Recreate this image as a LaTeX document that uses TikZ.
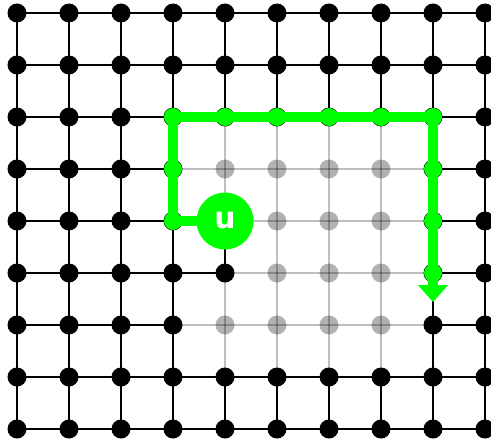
\documentclass[tikz,border=0pt]{standalone}
\usepackage{fontspec}
\setsansfont{DejaVu Sans}
\usepackage{tikz}
\usetikzlibrary{calc,arrows.meta}
\definecolor{routegreen}{RGB}{0,255,0}

% перевірка: чи вершина (#1,#2) сіра
\newcommand{\ingray}[2]{%
  \pgfmathtruncatemacro\gtest{(#1>3)*(#1<8)*(#2>2)*(#2<7)*(1-(#1==4)*(#2>3)*(#2<6))}}

\begin{document}
\begin{tikzpicture}[x=1.04cm,y=-1.04cm,
    edge/.style={draw=black,line width=1.5pt},
    gedge/.style={draw=black,opacity=0.25,line width=1.5pt},
    vtx/.style={circle,fill=black,inner sep=0pt,minimum size=0.38cm},
    gvtx/.style={circle,fill=black,opacity=0.3,inner sep=0pt,minimum size=0.38cm},
    route/.style={draw=routegreen,line width=5.4pt},
    rvtx/.style={circle,fill=routegreen,inner sep=0pt,minimum size=0.36cm},
    unode/.style={circle,fill=routegreen,inner sep=0pt,minimum size=1.14cm,
        text=white,font=\sffamily\bfseries\fontsize{17}{20}\selectfont}]

        \useasboundingbox (-0.327,-0.25) rectangle (9.115,8.212);
        \clip (-0.327,-0.25) rectangle (9.115,8.212);

        % Вершини решітки 10 x 9
        \foreach \i in {0,...,9}
            \foreach \j in {0,...,8}
                \coordinate (p-\i-\j) at (\i,\j);

        % Горизонтальні ребра
        \foreach \j in {0,...,8} {
            \foreach \i [evaluate=\i as \k using int(\i+1)] in {0,...,8} {
                \ingray{\i}{\j}\let\ga\gtest
                \ingray{\k}{\j}\let\gb\gtest
                \def\estyle{edge}
                \ifnum\numexpr\ga+\gb\relax>0 \def\estyle{gedge}\fi
                \draw[\estyle] (p-\i-\j) -- (p-\k-\j);
            }
        }

        % Вертикальні ребра
        \foreach \i in {0,...,9} {
            \foreach \j [evaluate=\j as \k using int(\j+1)] in {0,...,7} {
                \ingray{\i}{\j}\let\ga\gtest
                \ingray{\i}{\k}\let\gb\gtest
                \def\estyle{edge}
                \ifnum\numexpr\ga+\gb\relax>0 \def\estyle{gedge}\fi
                \draw[\estyle] (p-\i-\j) -- (p-\i-\k);
            }
        }

        % Точки
        \foreach \i in {0,...,9} {
            \foreach \j in {0,...,8} {
                \ingray{\i}{\j}
                \ifnum\gtest=1
                    \node[gvtx] (v-\i-\j) at (p-\i-\j) {};
                \else
                    \node[vtx] (v-\i-\j) at (p-\i-\j) {};
                \fi
            }
        }

        % Шлях
        \coordinate (tip) at (8,5.56);
        \draw[route,-{Triangle[width=0.58cm,length=0.34cm]}]
            (p-4-4) -- (p-3-4) -- (p-3-2) -- (p-8-2) -- (tip);

        \foreach \a/\b in {3/2,4/2,5/2,6/2,7/2,8/2,3/3,3/4,8/3,8/4,8/5}
            \node[rvtx] (r-\a-\b) at (p-\a-\b) {};

        \node[unode] (u) at (p-4-4) {u};
    \end{tikzpicture}
\end{document}
